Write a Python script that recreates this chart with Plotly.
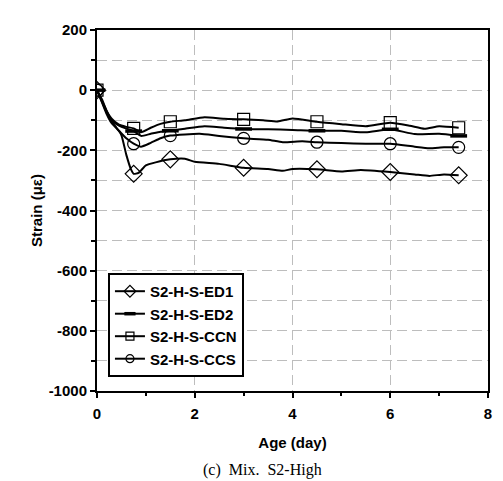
import plotly.graph_objects as go

# ---- data ----
marker_days = [0, 0.75, 1.5, 3, 4.5, 6, 7.4]

ed1_days = [0, 0.1, 0.2, 0.3, 0.4, 0.5, 0.6, 0.7, 0.75, 0.85, 1.0, 1.2, 1.5, 1.8, 2.0, 2.5, 3.0, 3.5, 3.8, 4.0, 4.5, 5.0, 5.4, 6.0, 6.5, 6.8, 7.1, 7.4]
ed1_vals = [0, -30, -70, -105, -125, -150, -215, -265, -278, -275, -250, -240, -230, -228, -238, -245, -258, -262, -268, -262, -263, -270, -265, -272, -280, -285, -280, -283]
ed1_mark = [0, -278, -230, -258, -263, -272, -283]

ed2_days = [0, 0.1, 0.2, 0.3, 0.45, 0.6, 0.75, 0.9, 1.1, 1.3, 1.5, 1.8, 2.2, 2.6, 3.0, 3.5, 4.0, 4.5, 5.0, 5.5, 6.0, 6.5, 7.0, 7.4]
ed2_vals = [0, -38, -75, -100, -118, -128, -136, -152, -145, -138, -135, -128, -120, -125, -129, -130, -132, -135, -135, -140, -130, -146, -145, -152]
ed2_mark = [0, -136, -135, -129, -135, -130, -152]

ccn_days = [0, 0.1, 0.2, 0.3, 0.45, 0.6, 0.75, 0.9, 1.1, 1.3, 1.5, 1.8, 2.2, 2.6, 3.0, 3.4, 3.7, 4.0, 4.5, 5.0, 5.5, 6.0, 6.4, 6.7, 7.0, 7.4]
ccn_vals = [0, -35, -70, -95, -115, -122, -127, -140, -125, -112, -105, -100, -90, -95, -97, -100, -104, -94, -105, -113, -120, -108, -118, -128, -120, -125]
ccn_mark = [0, -127, -105, -97, -105, -108, -125]

ccs_days = [0, 0.1, 0.2, 0.3, 0.45, 0.6, 0.75, 0.9, 1.1, 1.3, 1.5, 1.8, 2.1, 2.5, 3.0, 3.5, 3.8, 4.2, 4.5, 5.0, 5.5, 6.0, 6.5, 6.8, 7.1, 7.4]
ccs_vals = [0, -40, -80, -110, -135, -160, -178, -188, -175, -160, -151, -147, -145, -152, -160, -165, -173, -170, -173, -176, -178, -178, -188, -193, -190, -190]
ccs_mark = [0, -178, -151, -160, -173, -178, -190]

series_names = ["S2-H-S-ED1", "S2-H-S-ED2", "S2-H-S-CCN", "S2-H-S-CCS"]

y_tick_vals = [200, 0, -200, -400, -600, -800, -1000]
x_tick_vals = [0, 2, 4, 6, 8]

# ---- figure ----
fig = go.Figure()
series = [
    (ed1_days, ed1_vals, ed1_mark, dict(symbol="diamond-open", size=13, line=dict(width=1.2, color="black"))),
    (ed2_days, ed2_vals, ed2_mark, dict(symbol="line-ew", size=12, line=dict(width=3.5, color="black"))),
    (ccn_days, ccn_vals, ccn_mark, dict(symbol="square-open", size=12, line=dict(width=1.2, color="black"))),
    (ccs_days, ccs_vals, ccs_mark, dict(symbol="circle-open", size=12, line=dict(width=1.2, color="black"))),
]
for name, (dx, dy, mk, msty) in zip(series_names, series):
    fig.add_trace(go.Scatter(x=dx, y=dy, mode="lines", showlegend=False,
                             line=dict(color="black", width=2, shape="spline", smoothing=0.5),
                             hoverinfo="skip"))
    fig.add_trace(go.Scatter(x=marker_days, y=mk, mode="markers", showlegend=False,
                             marker=dict(color="black", **msty)))
    fig.add_trace(go.Scatter(x=[None], y=[None], mode="lines+markers", name=name,
                             line=dict(color="black", width=2),
                             marker=dict(color="black", **{**msty, "size": max(msty["size"] - 4, 7)})))

grid_color = "#bdbdbd"
fig.update_layout(
    width=495, height=473,
    margin=dict(l=89, r=15, t=22, b=90),
    paper_bgcolor="white", plot_bgcolor="white",
    font=dict(family="Liberation Sans, Arial, sans-serif", size=15, color="black"),
    showlegend=True,
    legend=dict(x=0.028, y=0.327, xanchor="left", yanchor="top",
                bgcolor="white", bordercolor="black", borderwidth=2,
                font=dict(family="Liberation Sans, Arial, sans-serif", size=15, color="black", weight="bold"),
                itemwidth=30, tracegroupgap=0),
    xaxis=dict(range=[0, 8], tickvals=x_tick_vals, ticktext=[str(v) for v in x_tick_vals],
               showline=True, linecolor="black", linewidth=2, mirror=True,
               ticks="outside", ticklen=5, tickwidth=1.5, tickcolor="black",
               ticklabelstandoff=3,
               showgrid=True, gridcolor=grid_color, gridwidth=1, griddash="10px,5px",
               minor=dict(dtick=1, ticks="outside", ticklen=3, tickcolor="black", showgrid=False),
               zeroline=False,
               tickfont=dict(size=15, weight="bold"),
               title=dict(text="Age (day)", font=dict(size=15, weight="bold"), standoff=16)),
    yaxis=dict(range=[-1000, 200], tickvals=y_tick_vals, ticktext=[str(v) for v in y_tick_vals],
               showline=True, linecolor="black", linewidth=2, mirror=True,
               ticks="outside", ticklen=5, tickwidth=1.5, tickcolor="black",
               showgrid=True, gridcolor=grid_color, gridwidth=1, griddash="10px,5px",
               minor=dict(dtick=100, tick0=0, ticks="outside", ticklen=4, tickcolor="black",
                          showgrid=True, gridcolor=grid_color, griddash="10px,5px"),
               zeroline=False,
               tickfont=dict(size=15, weight="bold"),
               title=dict(text="Strain (με)", font=dict(size=15, weight="bold"), standoff=2)),
    annotations=[dict(text="(c)  Mix.  S2-High", xref="paper", yref="paper",
                      x=0.422, y=-0.219, xanchor="center", yanchor="middle", showarrow=False,
                      font=dict(family="Liberation Serif, DejaVu Serif, serif", size=16, color="black"))],
)

fig.write_html("out.html")
